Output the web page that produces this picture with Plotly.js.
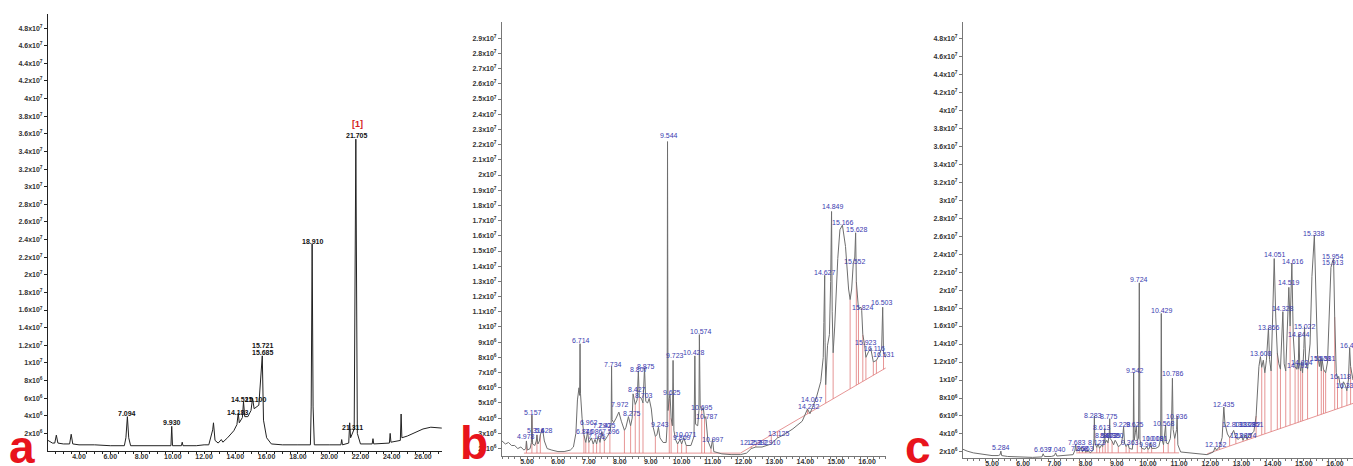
<!DOCTYPE html>
<html><head><meta charset="utf-8">
<script src="https://cdn.plot.ly/plotly-3.0.1.min.js"></script>
<style>html,body{margin:0;padding:0;background:#fff;}#chart{width:1353px;height:466px;}</style>
</head><body><div id="chart"></div>
<script>
// ---------- DATA (intensity in units of 10^6 counts, time in min) ----------
// Panel a chromatogram
const aTrace = [[2.02,1.2],[2.3,0.9],[2.45,0.9],[2.55,1.8],[2.65,0.9],[3.0,0.8],[3.4,0.8],[3.5,1.9],[3.6,0.8],[4.0,0.7],[5.0,0.7],[6.0,0.6],[6.9,0.6],[7.0,1.5],[7.094,3.9],[7.18,1.5],[7.3,0.6],[8.0,0.6],[9.0,0.6],[9.88,0.6],[9.93,2.8],[9.98,0.6],[10.55,0.6],[10.6,1.0],[10.65,0.6],[11.5,0.6],[12.0,0.7],[12.3,0.7],[12.55,2.4],[12.6,3.2],[12.7,1.2],[12.9,0.9],[13.1,1.3],[13.2,1.0],[13.5,1.5],[13.9,2.3],[14.1,3.0],[14.183,4.3],[14.25,3.2],[14.45,3.8],[14.521,5.6],[14.6,3.9],[14.8,3.9],[15.0,4.6],[15.1,6.0],[15.2,4.8],[15.5,5.2],[15.685,10.2],[15.721,10.8],[15.8,3.5],[16.0,1.5],[16.3,0.8],[17.0,0.7],[18.0,0.7],[18.8,0.7],[18.85,5.0],[18.91,23.5],[18.97,5.0],[19.05,0.7],[20.0,0.7],[20.75,0.7],[20.8,1.3],[20.85,0.7],[21.25,0.9],[21.311,3.2],[21.37,1.5],[21.6,2.5],[21.705,35.4],[21.8,2.0],[22.0,0.8],[22.75,0.8],[22.8,1.4],[22.85,0.8],[23.85,0.9],[23.9,2.0],[23.95,1.0],[24.55,1.2],[24.6,4.2],[24.65,1.5],[25.0,1.7],[25.5,2.1],[26.0,2.5],[26.5,2.7],[27.2,2.6]];
const aLabels = [["7.094",7.07,4.3],["9.930",9.95,3.25],["14.183",14.17,4.4],["14.521",14.45,5.9],["15.100",15.3,5.9],["15.721",15.77,12.0],["15.685",15.77,11.2],["18.910",18.97,23.8],["21.311",21.46,2.7],["21.705",21.78,35.8]];
const aMarker = [["[1]",21.78,37.1]];

// Panel b chromatogram
const bTrace = [[4.19,2.5],[4.3,2.3],[4.4,2.4],[4.5,2.2],[4.6,2.2],[4.7,2.0],[4.8,2.1],[4.9,1.9],[4.96,2.0],[4.98,2.5],[5.01,1.9],[5.1,2.0],[5.14,2.4],[5.157,4.2],[5.18,2.3],[5.25,2.2],[5.3,2.5],[5.32,2.9],[5.35,2.3],[5.4,2.5],[5.43,2.9],[5.5,3.3],[5.56,2.5],[5.65,2.0],[5.8,1.9],[6.0,1.8],[6.2,1.8],[6.4,1.9],[6.5,2.1],[6.58,3.0],[6.63,5.2],[6.68,6.0],[6.7,5.5],[6.714,8.9],[6.73,5.6],[6.78,4.0],[6.84,2.9],[6.9,2.4],[6.96,3.1],[7.0,2.4],[7.08,2.7],[7.14,2.3],[7.2,2.6],[7.25,2.3],[7.3,2.8],[7.36,2.4],[7.42,3.1],[7.5,2.5],[7.6,2.8],[7.68,3.1],[7.72,3.6],[7.734,7.4],[7.75,3.9],[7.8,3.7],[7.88,4.0],[7.97,4.4],[8.05,3.8],[8.15,3.2],[8.2,3.4],[8.28,4.1],[8.35,3.5],[8.4,4.0],[8.43,5.6],[8.5,4.9],[8.56,5.2],[8.6,7.1],[8.63,5.4],[8.7,5.3],[8.75,5.0],[8.8,7.3],[8.84,5.1],[8.9,5.0],[8.95,5.3],[9.02,4.6],[9.08,3.4],[9.15,2.8],[9.2,2.9],[9.25,3.4],[9.3,2.7],[9.4,2.4],[9.5,2.4],[9.53,3.5],[9.544,22.2],[9.56,4.5],[9.6,5.3],[9.625,5.6],[9.66,4.0],[9.7,3.5],[9.723,7.8],[9.75,3.2],[9.8,2.6],[9.87,2.3],[9.95,2.6],[10.0,2.3],[10.07,2.7],[10.15,2.2],[10.3,2.2],[10.4,2.8],[10.428,8.1],[10.45,3.6],[10.52,3.5],[10.56,4.5],[10.574,9.5],[10.6,4.8],[10.65,4.5],[10.7,4.7],[10.74,4.0],[10.78,4.1],[10.85,2.5],[10.95,2.0],[11.0,2.6],[11.04,1.8],[11.3,1.65],[11.6,1.6],[11.9,1.6],[12.1,1.7],[12.25,2.0],[12.4,2.1],[12.6,2.1],[12.9,2.3],[13.1,2.7],[13.3,2.9],[13.6,3.3],[13.9,3.8],[14.07,4.6],[14.15,4.3],[14.23,4.7],[14.35,5.3],[14.5,6.4],[14.58,8.0],[14.6,10.3],[14.627,13.4],[14.64,9.0],[14.66,6.2],[14.72,8.8],[14.78,9.5],[14.82,13.0],[14.849,17.6],[14.87,11.0],[14.9,8.3],[14.95,10.0],[15.05,14.5],[15.12,16.4],[15.2,16.7],[15.3,15.3],[15.4,12.5],[15.45,11.8],[15.5,12.5],[15.552,14.2],[15.6,14.6],[15.628,16.2],[15.65,13.0],[15.72,11.2],[15.8,11.3],[15.824,11.1],[15.86,9.5],[15.92,8.8],[15.96,8.0],[16.05,8.4],[16.116,8.6],[16.2,7.7],[16.3,7.8],[16.4,8.2],[16.47,8.6],[16.503,11.3],[16.53,8.3],[16.6,8.0]];
const bLabels = [["4.978",4.97,2.8],["5.157",5.19,4.4],["5.316",5.3,3.2],["5.428",5.56,3.2],["6.714",6.75,9.1],["6.846",6.88,3.1],["6.962",7.0,3.7],["7.086",7.18,3.1],["7.195",7.27,2.8],["7.290",7.44,3.55],["7.425",7.6,3.55],["7.596",7.72,3.1],["7.734",7.78,7.5],["7.972",8.01,4.9],["8.275",8.38,4.3],["8.427",8.56,5.9],["8.703",8.79,5.5],["8.807",8.62,7.2],["8.875",8.85,7.4],["9.243",9.3,3.6],["9.544",9.6,22.6],["9.625",9.69,5.7],["9.723",9.79,8.1],["9.869",10.0,2.7],["10.071",10.15,2.9],["10.428",10.4,8.3],["10.574",10.63,9.7],["10.695",10.66,4.7],["10.787",10.83,4.1],["10.997",11.02,2.6],["12.252",12.25,2.4],["12.392",12.48,2.4],["12.910",12.86,2.4],["13.125",13.16,3.0],["14.067",14.22,5.2],["14.232",14.13,4.8],["14.627",14.64,13.6],["14.849",14.9,17.9],["15.166",15.23,16.9],["15.628",15.68,16.4],["15.552",15.61,14.3],["15.824",15.87,11.25],["15.923",15.97,8.95],["16.116",16.23,8.6],["16.503",16.49,11.6],["16.531",16.55,8.2]];
const bDropTimes = [4.98,5.157,5.32,5.43,6.84,6.9,7.0,7.14,7.25,7.36,7.5,7.68,8.15,8.35,8.5,8.63,8.75,9.15,9.6,9.66,9.87,10.0,10.15,10.65,10.74,10.95,12.25,12.4,12.9,13.1,14.07,14.15,14.66,14.9,15.45,15.65,15.72,15.86,15.96,16.2,16.3,16.53];
const bBaseline = [[[4.9,1.7],[11.9,1.7],[16.6,7.3]]];

// Panel c chromatogram
const cTrace = [[4.07,2.3],[4.2,2.1],[4.4,1.9],[4.6,1.8],[4.8,1.7],[5.0,1.6],[5.2,1.6],[5.26,1.7],[5.284,2.1],[5.31,1.6],[5.5,1.5],[5.8,1.45],[6.0,1.4],[6.3,1.4],[6.6,1.45],[6.64,1.8],[6.68,1.5],[6.9,1.5],[7.0,1.6],[7.04,1.9],[7.08,1.55],[7.4,1.6],[7.6,1.7],[7.66,2.2],[7.683,2.8],[7.71,2.1],[7.8,2.2],[7.86,2.5],[7.9,2.0],[7.96,2.4],[8.0,2.0],[8.1,2.1],[8.15,1.9],[8.25,2.2],[8.27,3.5],[8.283,6.0],[8.3,3.0],[8.36,2.5],[8.4,2.9],[8.45,2.4],[8.52,2.8],[8.55,2.6],[8.6,3.5],[8.613,4.6],[8.63,3.0],[8.68,3.3],[8.72,3.0],[8.76,4.0],[8.775,5.7],[8.79,3.5],[8.85,3.2],[8.9,2.8],[8.95,3.3],[9.0,3.0],[9.05,2.6],[9.1,2.7],[9.15,2.9],[9.2,4.0],[9.22,4.8],[9.25,3.0],[9.3,2.6],[9.363,2.9],[9.4,2.4],[9.5,2.3],[9.53,3.5],[9.542,10.8],[9.56,3.3],[9.6,4.2],[9.625,4.9],[9.66,3.3],[9.7,3.5],[9.724,20.8],[9.745,3.4],[9.8,2.4],[9.9,2.3],[9.968,2.6],[10.0,2.3],[10.05,2.4],[10.081,3.0],[10.12,2.4],[10.25,2.4],[10.35,2.6],[10.41,3.5],[10.429,17.4],[10.45,3.4],[10.5,2.8],[10.55,4.0],[10.568,5.0],[10.59,3.0],[10.65,2.9],[10.72,3.5],[10.76,5.5],[10.786,10.2],[10.81,4.5],[10.86,3.5],[10.92,4.5],[10.936,6.0],[10.96,2.8],[11.05,2.0],[11.3,1.9],[11.6,1.8],[11.9,1.7],[12.1,2.0],[12.152,2.5],[12.2,2.2],[12.3,2.6],[12.38,3.6],[12.435,7.0],[12.47,5.2],[12.55,4.0],[12.62,3.6],[12.68,3.9],[12.75,4.4],[12.82,3.6],[12.9,3.4],[13.0,3.8],[13.05,3.3],[13.12,3.9],[13.18,3.4],[13.25,3.9],[13.32,4.0],[13.4,4.3],[13.47,6.0],[13.52,9.0],[13.56,11.5],[13.608,12.6],[13.65,11.4],[13.7,12.2],[13.75,10.8],[13.8,12.2],[13.866,15.8],[13.9,12.3],[13.95,11.0],[14.0,17.0],[14.051,23.5],[14.1,17.0],[14.15,13.0],[14.2,11.8],[14.25,11.2],[14.328,17.6],[14.37,11.8],[14.42,11.0],[14.48,16.5],[14.519,20.3],[14.56,16.0],[14.616,23.0],[14.66,15.0],[14.72,11.5],[14.77,11.2],[14.792,11.9],[14.82,11.2],[14.844,15.1],[14.87,11.5],[14.9,11.0],[14.924,12.0],[14.96,10.8],[15.0,13.5],[15.022,15.9],[15.06,12.0],[15.12,11.2],[15.2,14.0],[15.26,21.5],[15.338,26.1],[15.39,20.0],[15.44,12.8],[15.5,11.5],[15.531,12.4],[15.56,11.0],[15.581,12.4],[15.63,11.2],[15.7,10.8],[15.76,12.0],[15.82,18.0],[15.87,22.5],[15.913,23.1],[15.954,23.5],[15.99,17.0],[16.04,10.8],[16.08,10.2],[16.118,10.4],[16.17,9.3],[16.22,9.0],[16.27,9.8],[16.333,9.4],[16.38,8.8],[16.43,10.0],[16.47,13.6],[16.5,11.5],[16.577,10.0]];
const cLabels = [["5.284",5.3,2.55],["6.639",6.62,2.3],["7.040",7.1,2.3],["7.683",7.72,3.1],["7.858",7.82,2.4],["7.963",7.98,2.4],["8.123",8.38,3.1],["8.283",8.25,6.1],["8.613",8.53,4.7],["8.775",8.74,5.9],["8.541",8.58,3.8],["8.672",8.76,3.8],["8.735",8.86,3.8],["8.880",8.95,3.8],["9.228",9.17,5.0],["9.625",9.6,5.0],["9.363",9.43,3.1],["9.542",9.59,11.1],["9.724",9.71,21.2],["9.968",10.0,2.8],["10.019",10.17,3.5],["10.081",10.3,3.5],["10.429",10.45,17.7],["10.568",10.52,5.2],["10.786",10.8,10.7],["10.936",10.93,5.9],["12.152",12.18,2.8],["12.435",12.44,7.3],["12.803",12.72,5.0],["12.995",13.0,3.8],["13.108",13.1,5.0],["13.174",13.14,3.8],["13.282",13.28,5.0],["13.351",13.38,5.0],["13.608",13.63,13.0],["13.866",13.88,15.8],["14.051",14.08,23.9],["14.328",14.33,17.9],["14.519",14.53,20.8],["14.616",14.65,23.2],["14.844",14.85,15.1],["14.792",14.8,11.6],["14.924",14.94,11.9],["15.022",15.04,15.9],["15.338",15.33,26.3],["15.531",15.55,12.4],["15.581",15.68,12.4],["15.954",15.94,23.7],["15.913",15.93,23.1],["16.118",16.16,10.4],["16.333",16.38,9.4],["16.481",16.52,13.8]];
const cDropTimes = [7.8,7.9,8.0,8.15,8.36,8.45,8.55,8.63,8.72,8.85,9.05,9.3,9.4,9.66,9.8,10.0,10.12,10.5,10.65,10.86,12.1,12.3,12.62,12.82,13.05,13.18,13.32,13.47,13.65,13.75,13.95,14.15,14.25,14.42,14.56,14.72,14.82,14.9,14.96,15.12,15.44,15.56,15.63,15.7,15.99,16.08,16.22,16.38,16.5];
const cBaseline = [[[7.7,1.9],[11.0,1.9]],[[11.9,1.8],[16.577,7.4]]];

// Tick values (10^6 units)
const yTicksAC = [2,4,6,8,10,12,14,16,18,20,22,24,26,28,30,32,34,36,38,40,42,44,46,48];
const yTicksB = [2,3,4,5,6,7,8,9,10,11,12,13,14,15,16,17,18,19,20,21,22,23,24,25,26,27,28,29];
const panelLetters = ["a","b","c"];

// ---------- helpers ----------
function sciText(v){ return v<10 ? v+"x10<sup>6</sup>" : (v/10)+"x10<sup>7</sup>"; }
function interp(pts,t){
  for(let i=0;i<pts.length-1;i++){
    const [t0,v0]=pts[i],[t1,v1]=pts[i+1];
    if(t>=t0&&t<=t1) return v0+(v1-v0)*(t-t0)/(t1-t0);
  }
  return null;
}
function baseAt(segs,t){ for(const s of segs){const v=interp(s,t); if(v!==null) return v;} return null; }
function dropTrace(times,segs,curve,xa,ya){
  const x=[],y=[];
  times.forEach(t=>{const b=baseAt(segs,t),c=interp(curve,t); if(b!==null&&c!==null){x.push(t,t,null);y.push(b,c,null);}});
  return {x,y,xaxis:xa,yaxis:ya,mode:'lines',line:{color:'#e07a7a',width:0.8},hoverinfo:'skip'};
}
function baseTrace(segs,xa,ya){
  const x=[],y=[];
  segs.forEach(s=>{s.forEach(p=>{x.push(p[0]);y.push(p[1]);});x.push(null);y.push(null);});
  return {x,y,xaxis:xa,yaxis:ya,mode:'lines',line:{color:'#e07a7a',width:0.8},hoverinfo:'skip'};
}
function curveTrace(pts,xa,ya,color){
  return {x:pts.map(p=>p[0]),y:pts.map(p=>p[1]),xaxis:xa,yaxis:ya,mode:'lines',line:{color:color,width:1},hoverinfo:'skip'};
}

const FONT="Liberation Sans, Arial, sans-serif";
const W=1353,H=466;
const dxp=(a,b)=>[a/W,b/W];
const dyp=(top,bot)=>[(H-bot)/H,(H-top)/H];

const traces=[
  dropTrace(bDropTimes,bBaseline,bTrace,'x2','y2'),
  baseTrace(bBaseline,'x2','y2'),
  dropTrace(cDropTimes,cBaseline,cTrace,'x3','y3'),
  baseTrace(cBaseline,'x3','y3'),
  curveTrace(aTrace,'x','y','#222'),
  curveTrace(bTrace,'x2','y2','#6e6e6e'),
  curveTrace(cTrace,'x3','y3','#6e6e6e')
];

const ann=[];
aLabels.forEach(([s,t,v])=>ann.push({text:s,x:t,y:v,xref:'x',yref:'y',showarrow:false,yanchor:'middle',font:{family:FONT,size:7,color:'#111',weight:'bold'}}));
aMarker.forEach(([s,t,v])=>ann.push({text:s,x:t,y:v,xref:'x',yref:'y',showarrow:false,yanchor:'middle',font:{family:FONT,size:9,color:'#d42020',weight:'bold'}}));
bLabels.forEach(([s,t,v])=>ann.push({text:s,x:t,y:v,xref:'x2',yref:'y2',showarrow:false,yanchor:'middle',font:{family:FONT,size:7,color:'#3b3bb0'}}));
cLabels.forEach(([s,t,v])=>ann.push({text:s,x:t,y:v,xref:'x3',yref:'y3',showarrow:false,yanchor:'middle',font:{family:FONT,size:7,color:'#3b3bb0'}}));
const letterPos=[[7,447],[458,443],[903,447]];
panelLetters.forEach((L,i)=>ann.push({text:L,x:letterPos[i][0]/W,y:(H-letterPos[i][1])/H,xref:'paper',yref:'paper',xanchor:'left',yanchor:'middle',showarrow:false,font:{family:FONT,size:46,color:'#e8141c',weight:'bold'}}));

function xax(dom,range,dtick,minor,lc){
  return {domain:dom,range:range,dtick:dtick,tick0:0,tickformat:'.2f',showgrid:false,zeroline:false,showline:true,linecolor:lc,linewidth:1,
    ticks:'outside',ticklen:2,tickcolor:lc,ticklabelstandoff:-3,tickfont:{family:FONT,size:7,color:'#333',weight:'bold'},
    minor:{dtick:minor,ticks:'outside',ticklen:2,tickcolor:lc,showgrid:false},fixedrange:true};
}
function yax(dom,range,vals,lc,anchor){
  return {domain:dom,range:range,tickvals:vals,ticktext:vals.map(sciText),showgrid:false,zeroline:false,showline:true,linecolor:lc,linewidth:1,
    ticks:'outside',ticklen:3,tickcolor:lc,tickfont:{family:FONT,size:7,color:'#333',weight:'bold'},anchor:anchor,fixedrange:true};
}
const layout={
  width:W,height:H,margin:{l:0,r:0,t:0,b:0,pad:0},paper_bgcolor:'#fff',plot_bgcolor:'#fff',showlegend:false,
  xaxis:Object.assign(xax(dxp(48,442),[2.017,27.215],2,0.5,'#222'),{anchor:'y'}),
  yaxis:yax(dyp(14,451),[0,49.6],yTicksAC,'#222','x'),
  xaxis2:Object.assign(xax(dxp(502,886),[4.19,16.61],1,0.2,'#777'),{anchor:'y2'}),
  yaxis2:yax(dyp(22,456),[1.51,30.07],yTicksB,'#777','x2'),
  xaxis3:Object.assign(xax(dxp(963,1353),[4.07,16.577],1,0.2,'#777'),{anchor:'y3'}),
  yaxis3:yax(dyp(22,458),[1.33,49.8],yTicksAC,'#777','x3'),
  annotations:ann
};
Plotly.newPlot('chart',traces,layout,{displayModeBar:false,staticPlot:true});
</script>
</body></html>
